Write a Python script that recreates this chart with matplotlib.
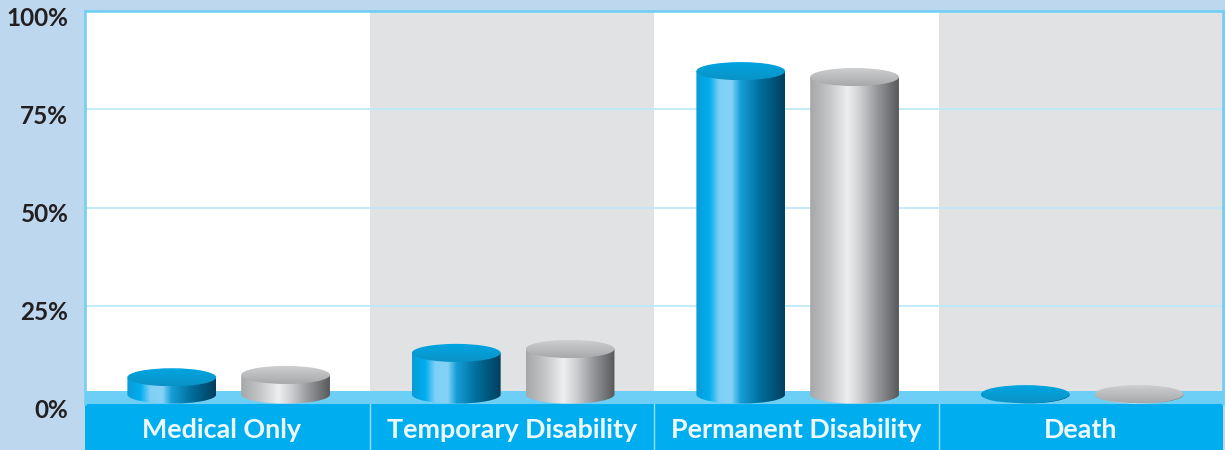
import numpy as np
import matplotlib
matplotlib.use("Agg")
import matplotlib.pyplot as plt
from matplotlib.colors import LinearSegmentedColormap
from matplotlib.patches import Ellipse, Rectangle, PathPatch
from matplotlib.path import Path
from matplotlib.transforms import ScaledTranslation

categorias = ["Medical Only", "Temporary Disability", "Permanent Disability", "Death"]
serie_azul = [6.8, 13.0, 84.7, 2.5]
serie_cinza = [7.4, 14.0, 83.2, 2.5]
ticks_y = [0, 25, 50, 75, 100]
rotulos_y = ["0%", "25%", "50%", "75%", "100%"]

W, H = 1225, 450
esq, dir_, topo, base = 85, 1223, 11, 404
BASE_CIL = 2.4
LARG = 0.156
MEIA_ALT = 2.3

az_lado = LinearSegmentedColormap.from_list("az_lado", [
    (0.0, "#0a9cd6"), (0.15, "#00aeef"), (0.26, "#7fd0f6"), (0.40, "#86d2f7"),
    (0.50, "#159fd6"), (0.72, "#006f9e"), (1.0, "#003f5e")])
ci_lado = LinearSegmentedColormap.from_list("ci_lado", [
    (0.0, "#a6a7a9"), (0.22, "#c6c7c9"), (0.42, "#eeeff0"), (0.56, "#cfd0d2"),
    (0.75, "#98999c"), (1.0, "#58595b")])
az_topo = LinearSegmentedColormap.from_list("az_topo", ["#0a93c6", "#00a6e2"])
ci_topo = LinearSegmentedColormap.from_list("ci_topo", ["#a8a9ab", "#cfd0d2"])


def cilindro(ax, xc, valor, cm_lado, cm_topo):
    # corpo com o fundo arredondado
    k = 0.5523
    x0, x1 = xc - LARG, xc + LARG
    fundo = BASE_CIL
    verts = [(x0, valor), (x0, fundo),
             (x0, fundo - k * MEIA_ALT), (xc - k * LARG, fundo - MEIA_ALT), (xc, fundo - MEIA_ALT),
             (xc + k * LARG, fundo - MEIA_ALT), (x1, fundo - k * MEIA_ALT), (x1, fundo),
             (x1, valor), (x0, valor)]
    codes = [Path.MOVETO, Path.LINETO, Path.CURVE4, Path.CURVE4, Path.CURVE4,
             Path.CURVE4, Path.CURVE4, Path.CURVE4, Path.LINETO, Path.CLOSEPOLY]
    corpo = PathPatch(Path(verts, codes), fc="none", ec="none", transform=ax.transData)
    ax.add_patch(corpo)
    grad = np.linspace(0, 1, 256).reshape(1, -1)
    im = ax.imshow(grad, cmap=cm_lado, aspect="auto", zorder=4, clip_on=True,
                   extent=(x0, x1, fundo - MEIA_ALT, valor))
    im.set_clip_path(corpo)

    tampa = Ellipse((xc, valor), 2 * LARG, 2 * MEIA_ALT, fc="none", ec="none")
    ax.add_patch(tampa)
    grad2 = np.linspace(1, 0, 64).reshape(-1, 1)
    im2 = ax.imshow(grad2, cmap=cm_topo, aspect="auto", zorder=5,
                    extent=(x0, x1, valor - MEIA_ALT, valor + MEIA_ALT))
    im2.set_clip_path(tampa)


fig = plt.figure(figsize=(W / 100, H / 100), dpi=100, facecolor="#bdd7ee")
ax = fig.add_axes([esq / W, 1 - base / H, (dir_ - esq) / W, (base - topo) / H])
ax.set_facecolor("white")

n = len(categorias)
for i in range(n):
    if i % 2 == 1:
        ax.axvspan(i, i + 1, color="#e1e2e4", lw=0, zorder=0)

ax.set_yticks(ticks_y)
ax.set_yticklabels(rotulos_y, family="Lato", weight="bold", fontsize=17.5, color="#231f20")
ax.tick_params(axis="y", length=0, pad=12)
ax.grid(axis="y", color="#bfe8f8", lw=1.3, zorder=1)
ax.set_axisbelow(True)

# rotulos do eixo y ficam uns 5px abaixo da linha
desce = ScaledTranslation(0, -5 / 100, fig.dpi_scale_trans)
for lab in ax.get_yticklabels():
    lab.set_transform(lab.get_transform() + desce)

# faixa clara e faixa azul de baixo
ax.add_patch(Rectangle((0, 0), n, 3.3, fc="#6dcff6", ec="none", zorder=2))
ax.add_patch(Rectangle((0, -12), n, 12, fc="#00aeef", ec="none", zorder=2, clip_on=False))
for i in range(1, n):
    ax.plot([i, i], [-12, 0], color="#9adcf5", lw=1, zorder=3, clip_on=False)

for i in range(n):
    cilindro(ax, i + 0.305, serie_azul[i], az_lado, az_topo)
    cilindro(ax, i + 0.705, serie_cinza[i], ci_lado, ci_topo)

ax.set_xlim(0, n)
ax.set_ylim(0, 100)
ax.set_xticks([0.48, 1.5, 2.5, 3.5])
ax.set_xticklabels(categorias, family="Lato", weight="bold", fontsize=19.4, color="#eef9fe")
ax.tick_params(axis="x", length=0, pad=10)
ax.xaxis.set_zorder(7)

for lado, sp in ax.spines.items():
    sp.set_color("#6dcff6")
    sp.set_linewidth(1.8)
ax.spines["bottom"].set_visible(False)

fig.savefig("out.png", dpi=100, facecolor=fig.get_facecolor())
